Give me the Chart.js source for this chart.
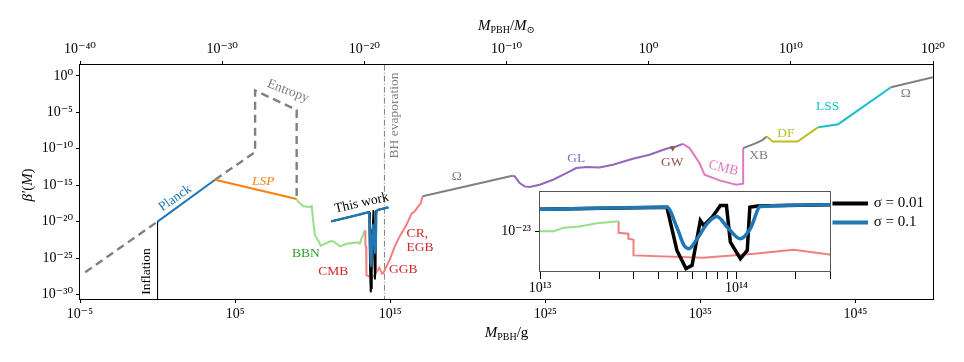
<!DOCTYPE html>
<html>
<head>
<meta charset="utf-8">
<title>PBH abundance constraints</title>
<script src="https://cdn.jsdelivr.net/npm/chart.js@4.4.1/dist/chart.umd.min.js"></script>
<style>
  html, body { margin: 0; padding: 0; background: #fff; }
  #wrap { position: relative; width: 964px; height: 362px; }
  canvas { position: absolute; }
</style>
</head>
<body>
<div id="wrap">
  <canvas id="mainChart" width="964" height="362" style="left:0;top:0;width:964px;height:362px"></canvas>
  <canvas id="insetChart" width="464" height="125" style="left:470px;top:180px;width:464px;height:125px"></canvas>
</div>
<script>
// values are log10(M / g) and log10(beta')

// gray dashed line below Planck, and the entropy bound above it
const dashLowLogM = [-4.66, 0.0];
const dashLowLogB = [-26.95, -20.0];
const entropyLogM = [3.71, 6.29, 6.29, 8.97, 8.97];
const entropyLogB = [-14.25, -10.45, -2.0, -4.66, -16.9];

const planckLogM = [0.0, 3.71];
const planckLogB = [-20.0, -14.25];
const lspLogM = [3.71, 8.97];
const lspLogB = [-14.25, -16.9];
const inflationLogM = [0.0, 0.0];
const inflationLogB = [-20.0, -31.0];
const bhEvapLogM = [14.63, 14.63];
const bhEvapLogB = [-31.0, 2.0];

const bbnLogM = [8.97, 9.08, 9.4, 9.83, 9.94, 10.04, 10.15, 10.36, 10.52, 10.8, 11.12, 11.33, 11.76, 12.19, 12.73, 12.94, 13.0, 13.07, 13.12, 13.2, 13.29, 13.4];
const bbnLogB = [-16.9, -17.3, -17.9, -18.0, -17.85, -20.0, -21.9, -22.6, -23.3, -23.05, -22.7, -22.7, -23.4, -23.05, -22.9, -22.85, -23.0, -23.0, -22.39, -22.16, -21.57, -21.21];

// CMB -> GGB -> CR, EGB (one light red curve)
const redLogM = [13.4, 13.4, 13.45, 13.45, 13.476, 13.476, 13.83, 14.09, 14.29, 14.474, 14.55, 14.77, 14.98, 15.3, 15.62, 16.06, 16.38, 16.59, 16.74, 16.96, 17.09];
const redLogB = [-21.21, -23.29, -23.46, -24.36, -24.54, -27.34, -27.75, -27.04, -26.32, -27.16, -27.1, -26.12, -25.2, -23.38, -22.0, -20.4, -18.9, -18.58, -18.12, -17.53, -16.53];

const omegaLowLogM = [17.09, 22.88];
const omegaLowLogB = [-16.53, -13.7];
const glLogM = [22.88, 23.03, 23.35, 23.67, 24.0, 24.64, 25.5, 26.36, 27.0, 27.65, 28.5, 29.36, 30.65, 31.72, 32.8, 33.44, 33.87];
const glLogB = [-13.7, -13.79, -14.7, -15.16, -15.25, -14.93, -14.25, -13.33, -12.64, -12.51, -12.56, -12.19, -11.37, -10.82, -10.0, -9.68, -9.32];
const cmbAccLogM = [33.87, 34.3, 34.94, 35.27, 36.23, 37.31, 37.76, 37.76];
const cmbAccLogB = [-9.32, -9.9, -11.96, -13.56, -14.34, -14.93, -14.79, -9.9];
const xbLogM = [37.76, 38.59, 39.02, 39.28];
const xbLogB = [-9.9, -9.22, -8.77, -8.32];
const dfLogM = [39.28, 39.66, 41.27, 42.6];
const dfLogB = [-8.32, -9.0, -9.0, -7.03];
const lssLogM = [42.6, 43.89, 47.29];
const lssLogB = [-7.03, -6.62, -1.55];
const omegaHighLogM = [47.29, 50.0];
const omegaHighLogB = [-1.55, -0.18];
const gwLogM = [33.22];
const gwLogB = [-9.9];

// this work, two widths sigma
const sig001LogM = [11.2, 13.0, 13.646, 13.697, 13.743, 13.774, 13.816, 13.833, 13.876, 13.918, 13.949, 13.969, 14.02, 14.055, 14.068, 14.106, 14.474, 14.88];
const sig001LogB = [-19.97, -19.05, -18.71, -26.45, -29.71, -29.13, -21.09, -21.98, -20.5, -18.41, -18.41, -24.96, -27.93, -26.45, -18.71, -18.5, -18.25, -18.03];
const sig01LogM = [11.2, 13.0, 13.646, 13.699, 13.733, 13.757, 13.8, 13.85, 13.9, 13.959, 14.02, 14.071, 14.122, 14.474, 14.88];
const sig01LogB = [-19.97, -19.05, -18.71, -22.52, -25.55, -26.14, -24.36, -21.68, -20.38, -22.52, -24.36, -22.52, -18.59, -18.25, -18.03];

// tick positions
const gramTicks = [1e-5, 1e5, 1e15, 1e25, 1e35, 1e45];
const solarTicks = [1e-40, 1e-30, 1e-20, 1e-10, 1e0, 1e10, 1e20];
const betaTicks = [1e0, 1e-5, 1e-10, 1e-15, 1e-20, 1e-25, 1e-30];
const insetMTicks = [1e13, 2e13, 3e13, 4e13, 5e13, 6e13, 7e13, 8e13, 9e13, 1e14, 2e14, 3e14];
const insetBTicks = [1e-23];

const serif = "'Liberation Serif', 'DejaVu Serif', serif";
const sup = { '-': '⁻', '0': '⁰', '1': '¹', '2': '²', '3': '³', '4': '⁴', '5': '⁵', '6': '⁶', '7': '⁷', '8': '⁸', '9': '⁹' };

function powLabel(v) {
  const e = Math.round(Math.log10(v));
  return '10' + String(e).split('').map(c => sup[c]).join('');
}
function isDecade(v) {
  const e = Math.log10(v);
  return Math.abs(e - Math.round(e)) < 1e-6;
}
function curve(label, logM, logB, color, width, extra) {
  return Object.assign({
    label: label,
    data: logM.map((m, i) => ({ x: Math.pow(10, m), y: Math.pow(10, logB[i]) })),
    showLine: true,
    borderColor: color,
    backgroundColor: color,
    borderWidth: width,
    pointRadius: 0,
    tension: 0,
    clip: 0
  }, extra || {});
}
function logAxis(min, max, ticks, extra) {
  return Object.assign({
    type: 'logarithmic',
    min: min,
    max: max,
    afterBuildTicks: s => { s.ticks = ticks.map(v => ({ value: v })); },
    ticks: {
      autoSkip: false,
      maxRotation: 0,
      color: '#000',
      font: { family: serif, size: 14 },
      callback: v => powLabel(v)
    },
    grid: { display: true, drawOnChartArea: false, drawTicks: true, tickLength: 4, tickColor: '#000' },
    border: { display: false }
  }, extra || {});
}

// text laid out with mixed sizes (for subscripts)
function fontOf(p) {
  return (p.italic ? 'italic ' : '') + (p.size || 15) + 'px ' + serif;
}
function drawRich(ctx, parts, cx, cy, rot) {
  ctx.save();
  ctx.translate(cx, cy);
  if (rot) ctx.rotate(rot * Math.PI / 180);
  let total = 0;
  parts.forEach(p => { ctx.font = fontOf(p); p.w = ctx.measureText(p.t).width; total += p.w; });
  let x = -total / 2;
  ctx.fillStyle = '#000';
  ctx.textBaseline = 'alphabetic';
  ctx.textAlign = 'left';
  parts.forEach(p => { ctx.font = fontOf(p); ctx.fillText(p.t, x, 5 + (p.dy || 0)); x += p.w; });
  ctx.restore();
}

const mainNotes = [
  { text: 'Entropy', m: 8.41, b: -2.06, color: '#808080', rot: 21 },
  { text: 'Planck', m: 1.14, b: -16.78, color: '#1f77b4', rot: -35 },
  { text: 'LSP', m: 6.82, b: -14.5, color: '#ff7f0e', italic: true },
  { text: 'Inflation', m: -0.69, b: -26.85, color: '#000', rot: -90 },
  { text: 'BBN', m: 9.57, b: -24.32, color: '#2ca02c' },
  { text: 'CMB', m: 11.33, b: -26.85, color: '#d62728' },
  { text: 'This work', m: 13.16, b: -17.46, color: '#000', rot: -13 },
  { text: 'GGB', m: 15.84, b: -26.6, color: '#d62728' },
  { text: 'CR,', m: 16.06, b: -21.58, color: '#d62728', align: 'left' },
  { text: 'EGB', m: 16.06, b: -23.5, color: '#d62728', align: 'left' },
  { text: 'BH evaporation', m: 15.3, b: -5.42, color: '#808080', rot: -90 },
  { text: 'Ω', m: 19.3, b: -13.85, color: '#808080' },
  { text: 'GL', m: 27.0, b: -11.39, color: '#9467bd' },
  { text: 'GW', m: 33.18, b: -11.89, color: '#8c564b' },
  { text: 'CMB', m: 36.49, b: -12.66, color: '#e377c2', rot: 14 },
  { text: 'XB', m: 38.76, b: -10.97, color: '#7f7f7f' },
  { text: 'DF', m: 40.52, b: -7.86, color: '#bcbd22' },
  { text: 'LSS', m: 43.2, b: -4.21, color: '#17becf' },
  { text: 'Ω', m: 48.25, b: -2.37, color: '#808080' }
];

const mainDecor = {
  id: 'mainDecor',
  beforeDraw(chart) {
    const ctx = chart.ctx;
    ctx.save();
    ctx.fillStyle = '#fff';
    ctx.fillRect(0, 0, chart.width, chart.height);
    ctx.restore();
  },
  afterDraw(chart) {
    const ctx = chart.ctx;
    const a = chart.chartArea;
    const xs = chart.scales.x, ys = chart.scales.y;
    ctx.save();
    ctx.strokeStyle = '#000';
    ctx.lineWidth = 1;
    ctx.strokeRect(Math.round(a.left) - 0.5, Math.round(a.top) - 0.5, Math.round(a.right - a.left) + 1, Math.round(a.bottom - a.top) + 1);
    mainNotes.forEach(n => {
      const px = xs.getPixelForValue(Math.pow(10, n.m));
      const py = ys.getPixelForValue(Math.pow(10, n.b));
      ctx.save();
      ctx.translate(px, py);
      if (n.rot) ctx.rotate(n.rot * Math.PI / 180);
      ctx.font = (n.italic ? 'italic ' : '') + '13.5px ' + serif;
      ctx.fillStyle = n.color;
      ctx.textAlign = n.align || 'center';
      ctx.textBaseline = 'middle';
      ctx.fillText(n.text, 0, 0);
      ctx.restore();
    });
    ctx.restore();
    const cx = (a.left + a.right) / 2;
    drawRich(ctx, [{ t: 'M', italic: true }, { t: 'PBH', size: 10, dy: 2.5 }, { t: '/g' }], cx, a.bottom + 33);
    drawRich(ctx, [{ t: 'M', italic: true }, { t: 'PBH', size: 10, dy: 2.5 }, { t: '/', }, { t: 'M', italic: true }, { t: '⊙', size: 10, dy: 3 }], cx, a.top - 40);
    drawRich(ctx, [{ t: 'β′', italic: true }, { t: '(' }, { t: 'M', italic: true }, { t: ')' }], 27, (a.top + a.bottom) / 2 + 3, -90);
  }
};

const mainSets = [
  curve('BH evaporation', bhEvapLogM, bhEvapLogB, '#808080', 1, { borderDash: [6, 2, 1, 2] }),
  curve('Inflation', inflationLogM, inflationLogB, '#000', 1),
  curve('bound', dashLowLogM, dashLowLogB, '#808080', 2.4, { borderDash: [8, 5] }),
  curve('Entropy', entropyLogM, entropyLogB, '#808080', 2.4, { borderDash: [8, 5] }),
  curve('Planck', planckLogM, planckLogB, '#1f77b4', 2),
  curve('LSP', lspLogM, lspLogB, '#ff7f0e', 2),
  curve('BBN', bbnLogM, bbnLogB, '#98df8a', 2),
  curve('CMB, GGB, CR, EGB', redLogM, redLogB, '#f08080', 2),
  curve('Omega', omegaLowLogM, omegaLowLogB, '#808080', 2),
  curve('GL', glLogM, glLogB, '#9467bd', 2),
  curve('CMB accretion', cmbAccLogM, cmbAccLogB, '#e377c2', 2),
  curve('XB', xbLogM, xbLogB, '#7f7f7f', 2),
  curve('DF', dfLogM, dfLogB, '#bcbd22', 2),
  curve('LSS', lssLogM, lssLogB, '#17becf', 2),
  curve('Omega high', omegaHighLogM, omegaHighLogB, '#808080', 2),
  curve('GW', gwLogM, gwLogB, '#8c564b', 0, { showLine: false, pointRadius: 3.5, pointStyle: 'triangle', rotation: 180, pointBorderWidth: 0 }),
  curve('σ = 0.01', sig001LogM, sig001LogB, '#000', 1.8),
  curve('σ = 0.1', sig01LogM, sig01LogB, '#1f77b4', 2.4, { cubicInterpolationMode: 'monotone' })
];
mainSets.forEach((d, i) => { d.order = mainSets.length - i; });

new Chart(document.getElementById('mainChart'), {
  type: 'scatter',
  data: { datasets: mainSets },
  options: {
    responsive: false,
    animation: false,
    layout: { padding: { left: 0, right: 31, top: 0, bottom: 0 } },
    plugins: { legend: { display: false }, tooltip: { enabled: false } },
    scales: {
      x: logAxis(1e-5, 1e50, gramTicks, {
        position: 'bottom',
        afterFit: s => { s.height = 63; }
      }),
      x2: logAxis(1e-40, 1e20, solarTicks, {
        position: 'top',
        afterFit: s => { s.height = 65; }
      }),
      y: logAxis(Math.pow(10, -30.63), Math.pow(10, 1.51), betaTicks, {
        position: 'left',
        afterFit: s => { s.width = 80; }
      })
    }
  },
  plugins: [mainDecor]
});

// zoomed inset around 1e13 - 3e14 g
const insetDecor = {
  id: 'insetDecor',
  beforeDatasetsDraw(chart) {
    const a = chart.chartArea;
    chart.ctx.save();
    chart.ctx.fillStyle = '#fff';
    chart.ctx.fillRect(a.left, a.top, a.right - a.left, a.bottom - a.top);
    chart.ctx.restore();
  },
  afterDraw(chart) {
    const a = chart.chartArea;
    const ctx = chart.ctx;
    ctx.save();
    ctx.strokeStyle = '#555';
    ctx.lineWidth = 1;
    ctx.strokeRect(Math.round(a.left) - 0.5, Math.round(a.top) - 0.5, Math.round(a.right - a.left) + 1, Math.round(a.bottom - a.top) + 1);
    ctx.restore();
  }
};

const insetSets = [
  curve('CMB', redLogM, redLogB, '#f08080', 2),
  curve('BBN', bbnLogM, bbnLogB, '#98df8a', 2),
  curve('σ = 0.01', sig001LogM, sig001LogB, '#000', 3.5),
  curve('σ = 0.1', sig01LogM, sig01LogB, '#1f77b4', 3.5, { cubicInterpolationMode: 'monotone' })
];
insetSets.forEach((d, i) => { d.order = insetSets.length - i; });

new Chart(document.getElementById('insetChart'), {
  type: 'scatter',
  data: { datasets: insetSets },
  options: {
    responsive: false,
    animation: false,
    layout: { padding: { left: 0, right: 0, top: 12, bottom: 0 } },
    plugins: {
      tooltip: { enabled: false },
      legend: {
        position: 'right',
        align: 'start',
        labels: {
          filter: item => item.text.indexOf('σ') === 0,
          sort: (a, b) => a.datasetIndex - b.datasetIndex,
          boxWidth: 32,
          boxHeight: 0.5,
          padding: 4,
          color: '#000',
          font: { family: serif, size: 15 }
        }
      }
    },
    scales: {
      x: logAxis(1e13, 3e14, insetMTicks, {
        position: 'bottom',
        afterFit: s => { s.height = 34; },
        ticks: {
          autoSkip: false, maxRotation: 0, color: '#000', padding: 1,
          font: { family: serif, size: 14 },
          callback: v => (isDecade(v) ? powLabel(v) : '')
        },
        grid: { display: true, drawOnChartArea: false, drawTicks: true, tickLength: 8, tickColor: '#000' }
      }),
      y: logAxis(Math.pow(10, -30.14), Math.pow(10, -16.04), insetBTicks, {
        position: 'left',
        afterFit: s => { s.width = 70; },
        ticks: {
          autoSkip: false, color: '#000', padding: 4,
          font: { family: serif, size: 14 },
          callback: v => powLabel(v)
        },
        grid: { display: true, drawOnChartArea: false, drawTicks: true, tickLength: 5, tickColor: '#000' }
      })
    }
  },
  plugins: [insetDecor]
});
</script>
</body>
</html>
